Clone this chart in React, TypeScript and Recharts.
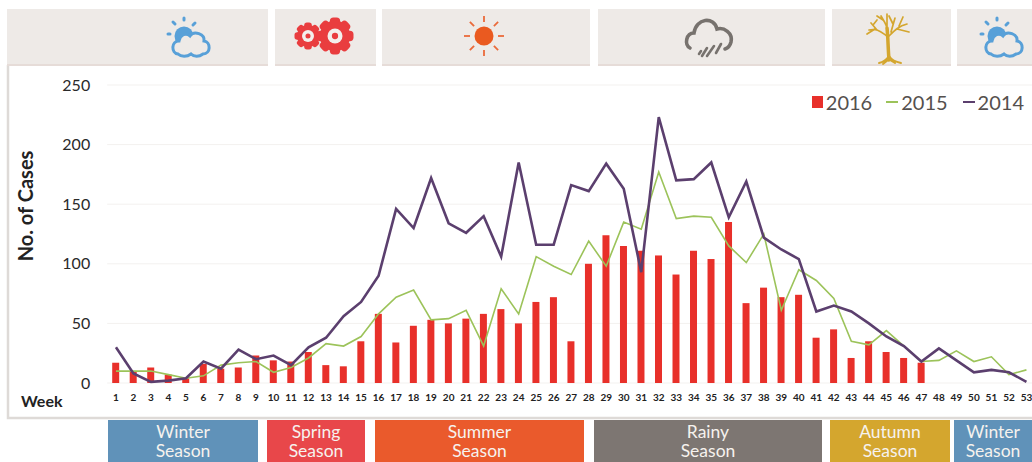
import React from 'react';
import { ComposedChart, Bar, Line, XAxis, YAxis, CartesianGrid, Legend, Label } from 'recharts';

const weeks = Array.from({ length: 53 }, (_, i) => String(i + 1));
const cases2016: (number | null)[] = [17,10,13,7,4,16,12,13,23,19,18,26,15,14,35,58,34,48,53,50,54,58,62,50,68,72,35,100,124,115,111,107,91,111,104,135,67,80,72,74,38,45,21,35,26,21,17,null,null,null,null,null,null];
const cases2015 = [10,10,10,7,4,6,15,17,18,9,13,21,33,31,39,58,72,78,53,54,61,31,79,58,106,98,91,119,98,135,129,177,138,140,139,115,101,125,61,95,86,71,35,32,44,31,18,19,27,18,22,7,11];
const cases2014 = [30,8,1,2,4,18,12,28,20,23,15,30,38,56,68,90,146,130,172,134,126,140,106,185,116,116,166,161,184,163,93,223,170,171,185,139,169,122,112,104,60,65,60,50,39,31,18,29,19,9,11,9,1];
const yTicks = [0, 50, 100, 150, 200, 250];
const seasonNames = ['Winter', 'Spring', 'Summer', 'Rainy', 'Autumn', 'Winter'];

const rows = weeks.map((week, i) => ({ week, y2016: cases2016[i], y2015: cases2015[i], y2014: cases2014[i] }));

const headerBoxes = [[7, 261], [275, 101], [382, 208], [598, 227], [832, 119], [957, 75]];
const seasonBoxes = [[108, 150], [267, 98], [375, 209], [594, 228], [830, 120], [954, 78]];
const seasonColors = ['#6092b9', '#e8474a', '#ea5a2c', '#7d7672', '#d4a62e', '#6092b9'];
const FONT = 'Lato, "Open Sans", sans-serif';

function CloudSun({ x, y }: { x: number; y: number }) {
  return (
    <g transform={`translate(${x},${y})`}>
      <circle cx="1" cy="3" r="9.5" fill="#58a0d8" />
      <path d="M-5 21 C-12 20 -12 8 -4 8 C-3 2 3 -1 7 3 C11 -3 22 1 21 8 C28 9 28 21 20 21 C16 24 11 24 8 21 C4 24 -2 24 -5 21 Z" fill="#eeeae7" stroke="#58a0d8" strokeWidth="3" />
      <g stroke="#58a0d8" strokeWidth="3" strokeLinecap="round">
        <line x1="1" y1="-15" x2="1" y2="-13" />
        <line x1="-10" y1="-11" x2="-8" y2="-9" />
        <line x1="12" y1="-10" x2="10" y2="-8" />
        <line x1="-15" y1="1" x2="-13" y2="1" />
      </g>
    </g>
  );
}

function Gear({ x, y, r, hole }: { x: number; y: number; r: number; hole: number }) {
  const teeth = [0, 45, 90, 135];
  return (
    <g transform={`translate(${x},${y})`}>
      {teeth.map((a) => (
        <rect key={a} x={-r * 0.28} y={-r} width={r * 0.56} height={r * 2} rx={r * 0.2} fill="#e93d3f" transform={`rotate(${a})`} />
      ))}
      <circle r={r * 0.82} fill="#e93d3f" />
      <circle r={hole} fill="#f3efec" />
      <circle r={hole * 0.42} fill="#e93d3f" />
    </g>
  );
}

function Sun({ x, y }: { x: number; y: number }) {
  return (
    <g transform={`translate(${x},${y})`}>
      <circle r="9.5" fill="#ea5a20" />
      {[0, 45, 90, 135, 180, 225, 270, 315].map((a) => (
        <line key={a} x1="0" y1="-14" x2="0" y2="-20" stroke="#ea6a3a" strokeWidth="1.8" transform={`rotate(${a})`} />
      ))}
    </g>
  );
}

function RainCloud({ x, y }: { x: number; y: number }) {
  return (
    <g transform={`translate(${x},${y})`} fill="none" stroke="#77726e" strokeLinecap="round">
      <path d="M4 30 C-2 27 0 15 8 15 C10 0 28 -2 31 11 C38 9 47 15 45 24 C44 28 42 30 39 31" strokeWidth="3.6" />
      <path d="M15 33 L13 36 M21 30 L16 38 M28 28 L21 38 M35 26 L30 35" strokeWidth="2.6" />
    </g>
  );
}

function Tree({ x, y }: { x: number; y: number }) {
  return (
    <g transform={`translate(${x},${y})`} fill="none" stroke="#d4a62e" strokeLinecap="round">
      <path d="M0 48 C-1 36 -1 24 -2 16" strokeWidth="3.5" />
      <path d="M-2 24 C-8 20 -12 16 -20 18 M-12 18 L-18 11 M-14 17 L-22 22 M-1 20 C-2 12 -6 8 -8 4 M-6 8 L-12 4 M-2 14 L-2 2 M0 24 C6 18 10 14 18 12 M8 17 L20 20 M10 14 L14 5 M2 20 L6 6 M4 12 L0 4 M-16 13 L-12 8" strokeWidth="1.7" />
      <path d="M-10 51 C-5 50 -2 47 0 44 C2 47 7 50 12 51 M-1 48 L-6 52 M1 48 L6 51" strokeWidth="2" />
    </g>
  );
}

function LegendContent() {
  const items = [
    { label: '2016', isBar: true, color: '#e8302a', gap: 14 },
    { label: '2015', isBar: false, color: '#9cc35a', gap: 15 },
    { label: '2014', isBar: false, color: '#5b3f6e', gap: 0 },
  ];
  return (
    <div style={{ display: 'flex', fontFamily: FONT, fontSize: 20, color: '#55504e', lineHeight: '24px' }}>
      {items.map((it) => (
        <div key={it.label} style={{ display: 'flex', alignItems: 'center', marginRight: it.gap }}>
          <span style={{ display: 'inline-block', width: it.isBar ? 11 : 12, height: it.isBar ? 12 : 2, background: it.color, marginRight: 3 }} />
          {it.label}
        </div>
      ))}
    </div>
  );
}

export default function App() {
  return (
    <div style={{ position: 'fixed', left: 0, top: 0, width: 1032, height: 462, overflow: 'hidden', background: '#fff' }}>
      <svg width={1032} height={462} style={{ position: 'absolute', left: 0, top: 0 }}>
        <path d="M8 65 V418 H1032" fill="none" stroke="#dedad7" strokeWidth="2.5" />
        {headerBoxes.map(([x, w], i) => (
          <g key={i}>
            <rect x={x} y={9} width={w} height={56} fill="#eeeae7" />
            <rect x={x} y={64} width={w} height={2} fill="#e6dcd8" />
          </g>
        ))}
        <CloudSun x={183} y={33} />
        <Gear x={308} y={36} r={13.5} hole={6} />
        <Gear x={335} y={36} r={18.5} hole={7.5} />
        <Sun x={484} y={36} />
        <RainCloud x={686} y={18} />
        <Tree x={889} y={12} />
        <CloudSun x={996} y={33} />
        {seasonBoxes.map(([x, w], i) => (
          <g key={i}>
            <rect x={x} y={420} width={w} height={42} fill={seasonColors[i]} />
            <text x={x + w / 2} y={438} textAnchor="middle" fontFamily={FONT} fontSize={17.5} fill="#f6f2ee">{seasonNames[i]}</text>
            <text x={x + w / 2} y={457} textAnchor="middle" fontFamily={FONT} fontSize={17.5} fill="#f6f2ee">Season</text>
          </g>
        ))}
        <text x={21} y={407} fontFamily={FONT} fontSize={16} fontWeight={700} fill="#222">Week</text>
      </svg>
      <ComposedChart
        width={1036}
        height={462}
        data={rows}
        margin={{ top: 85, right: 0.8, bottom: 49, left: 47.2 }}
        style={{ position: 'absolute', left: 0, top: 0 }}
      >
        <CartesianGrid vertical={false} stroke="#f3f1ef" strokeWidth={1} />
        <XAxis
          dataKey="week"
          interval={0}
          axisLine={false}
          tickLine={false}
          tickSize={0}
          tickMargin={11}
          height={30}
          tick={{ fontFamily: FONT, fontSize: 10, fontWeight: 700, fill: '#222' }}
        />
        <YAxis
          width={60}
          domain={[0, 250]}
          ticks={yTicks}
          axisLine={false}
          tickLine={false}
          tickSize={0}
          tickMargin={17}
          tick={{ fontFamily: FONT, fontSize: 16, fill: '#2a2a2a' }}
        >
          <Label value="No. of Cases" angle={-90} position="insideLeft" offset={0} dx={-21} dy={-28} style={{ fontFamily: FONT, fontSize: 20, fontWeight: 700, fill: '#222', textAnchor: 'middle' }} />
        </YAxis>
        <Bar dataKey="y2016" name="2016" fill="#e8302a" barSize={7} isAnimationActive={false} />
        <Line dataKey="y2015" name="2015" type="linear" stroke="#9cc35a" strokeWidth={1.6} dot={false} isAnimationActive={false} />
        <Line dataKey="y2014" name="2014" type="linear" stroke="#5b3f6e" strokeWidth={2.6} dot={false} isAnimationActive={false} />
        <Legend content={<LegendContent />} layout="horizontal" align="center" verticalAlign="middle" wrapperStyle={{ top: 90, right: 12, left: 'auto', bottom: 'auto', width: 'auto' }} />
      </ComposedChart>
    </div>
  );
}
